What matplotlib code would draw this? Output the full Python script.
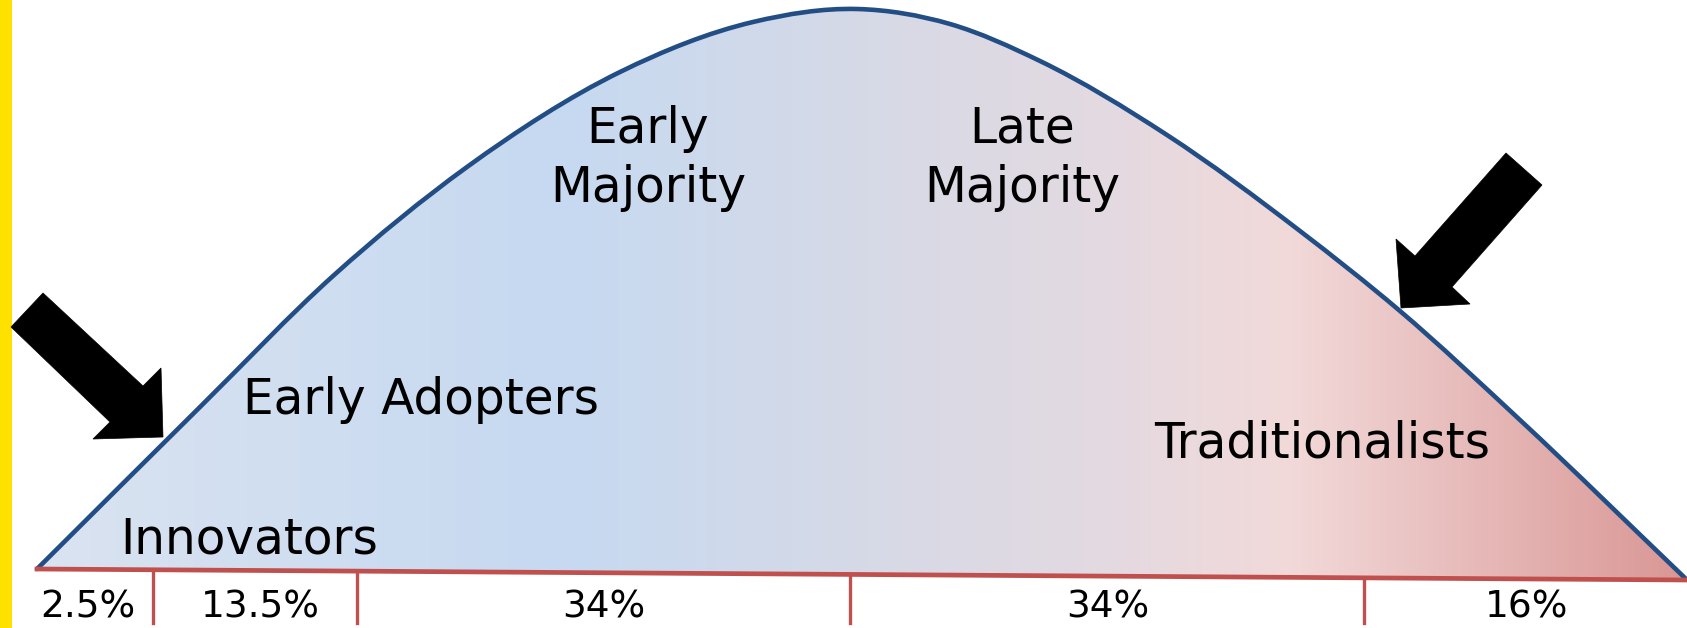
import matplotlib.pyplot as plt
import numpy as np
from matplotlib.patches import Polygon, PathPatch
from matplotlib.path import Path
from matplotlib.colors import to_rgb

# 曲線の通過点（画像のピクセル座標で読み取り）
curve_x = [37, 200, 333, 467, 620, 753, 857, 950, 1040, 1167, 1300, 1400, 1520, 1685]
curve_y = [569, 407, 276, 167, 72, 22, 9, 24, 61, 135, 231, 311, 420, 578]

# 基線と区切り
base_x = [37, 1687]
base_y = [569, 580]
tick_x = [153, 357, 850, 1364]
tick_bottom = 623

# ラベル
segment_labels = ['Innovators', 'Early Adopters', 'Early\nMajority', 'Late\nMajority', 'Traditionalists']
segment_x = [249, 421, 648, 1022, 1322]
segment_y = [553, 414, 202, 202, 457]

share_labels = ['2.5%', '13.5%', '34%', '34%', '16%']
share_x = [88, 260, 604, 1108, 1527]
share_y = 618

# 矢印
arrow_left = [(43, 293), (11, 327), (110, 422), (93, 439), (163, 437), (161, 368), (143, 386)]
arrow_right = [(1506, 153), (1542, 185), (1452, 287), (1470, 304), (1401, 308), (1396, 239), (1415, 256)]

# グラデーションの色
grad_pos = [37, 560, 850, 1100, 1290, 1687]
grad_col = ['#dae3f0', '#c6d9f1', '#d5d9e7', '#e3d9e1', '#f2d9d9', '#d99694']


def smooth_path(xs, ys):
    """通過点を三次ベジェでなめらかにつなぐ（接線は前後の点から）"""
    x = np.asarray(xs, float)
    y = np.asarray(ys, float)
    h = np.diff(x)
    s = np.diff(y) / h
    m = np.empty_like(x)
    m[0], m[-1] = s[0], s[-1]
    m[1:-1] = (s[:-1] * h[1:] + s[1:] * h[:-1]) / (h[:-1] + h[1:])
    verts = [(x[0], y[0])]
    codes = [Path.MOVETO]
    for i in range(len(x) - 1):
        d = h[i] / 3
        verts += [(x[i] + d, y[i] + m[i] * d),
                  (x[i + 1] - d, y[i + 1] - m[i + 1] * d),
                  (x[i + 1], y[i + 1])]
        codes += [Path.CURVE4] * 3
    return verts, codes


W, H = 1687, 628
fig = plt.figure(figsize=(W / 100, H / 100), dpi=100)
ax = fig.add_axes([0, 0, 1, 1])
ax.set_xlim(0, W)
ax.set_ylim(H, 0)
ax.axis('off')

# 左端の黄色い帯
ax.add_patch(plt.Rectangle((0, 0), 12, H, color='#ffe100', lw=0, zorder=1))

verts, codes = smooth_path(curve_x, curve_y)

# グラデーション塗り（曲線と基線で囲まれた領域）
xs = np.arange(W)
rgb = np.array([to_rgb(c) for c in grad_col])
grad = np.stack([np.interp(xs, grad_pos, rgb[:, k]) for k in range(3)], axis=-1)[None, :, :]
fill_verts = verts + [(base_x[1], base_y[1]), (base_x[0], base_y[0]), verts[0]]
fill_codes = codes + [Path.LINETO, Path.LINETO, Path.CLOSEPOLY]
clip = PathPatch(Path(fill_verts, fill_codes), facecolor='none', edgecolor='none')
ax.add_patch(clip)
im = ax.imshow(grad, extent=[0, W, H, 0], aspect='auto', zorder=2)
im.set_clip_path(clip)

# 曲線
ax.add_patch(PathPatch(Path(verts, codes), facecolor='none', edgecolor='#234e85',
                       lw=3.3, capstyle='round', zorder=4))

# 基線と区切り線
ax.plot(base_x, base_y, color='#c0504d', lw=3.4, zorder=5)
for tx in tick_x:
    ty = np.interp(tx, base_x, base_y)
    ax.plot([tx, tx], [ty, tick_bottom], color='#c0504d', lw=2.4, zorder=5)

# 矢印
for pts in (arrow_left, arrow_right):
    ax.add_patch(Polygon(pts, closed=True, facecolor='black', edgecolor='black', lw=0.5, zorder=6))

# テキスト
for lab, x, y in zip(segment_labels, segment_x, segment_y):
    ax.text(x, y, lab, ha='center', va='baseline', fontsize=35, color='black',
            family='DejaVu Sans', linespacing=1.3, multialignment='center', zorder=7)

for lab, x in zip(share_labels, share_x):
    ax.text(x, share_y, lab, ha='center', va='baseline', fontsize=27, color='black',
            family='DejaVu Sans', zorder=7)

plt.savefig('out.png', dpi=100)
